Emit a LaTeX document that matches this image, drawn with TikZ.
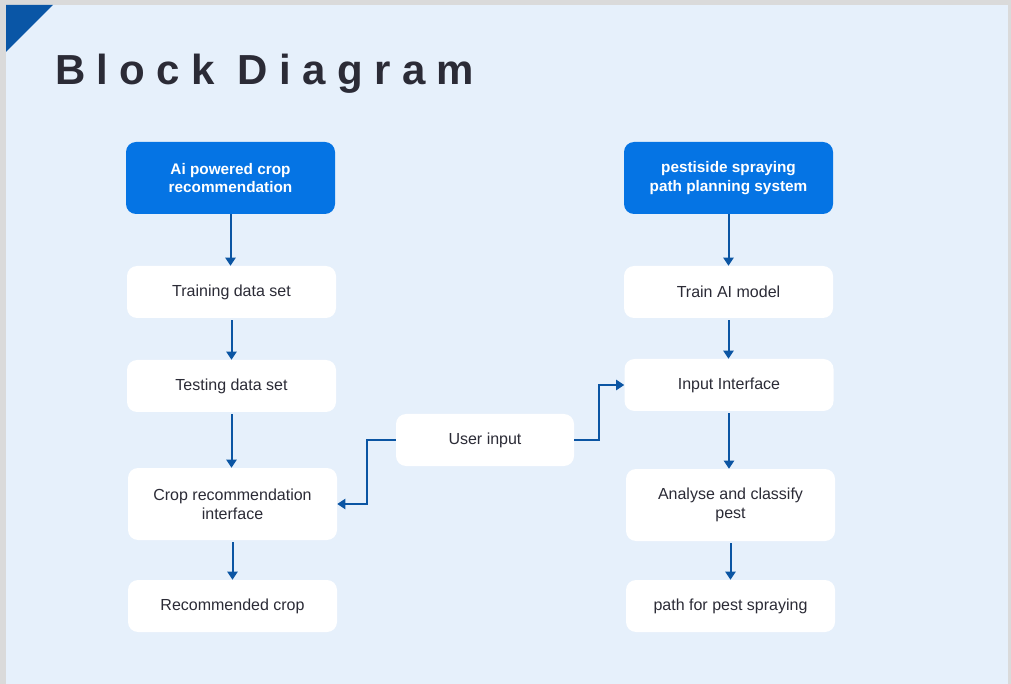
\documentclass[tikz,border=0pt]{standalone}
\usepackage{fontspec}
\setmainfont{Liberation Sans}
\usetikzlibrary{arrows.meta}

\definecolor{pagebg}{HTML}{E6F0FB}
\definecolor{edgegray}{HTML}{DADADA}
\definecolor{cornerblue}{HTML}{0A56A6}
\definecolor{headblue}{HTML}{0574E4}
\definecolor{arrowblue}{HTML}{0B55A3}
\definecolor{textdark}{HTML}{2B2B36}

\tikzset{
  headbox/.style={fill=headblue, text=white, rounded corners=7.5pt, align=center,
    minimum width=156.75pt, minimum height=54pt, inner sep=0pt,
    font=\bfseries\fontsize{11.5}{14}\selectfont},
  stepbox/.style={fill=white, text=textdark, rounded corners=7.5pt, align=center,
    minimum width=156.75pt, minimum height=39pt, inner sep=0pt,
    font=\fontsize{12}{14.5}\selectfont},
  flow/.style={draw=arrowblue, line width=1.5pt, -{Triangle[length=6pt,width=7.5pt]}}
}

\begin{document}
\begin{tikzpicture}[x=0.75pt,y=-0.75pt]
\useasboundingbox (0,0) rectangle (1011,684);
\fill[edgegray] (0,0) rectangle (1011,684);
\fill[pagebg] (6,5) rectangle (1008,684);
\fill[cornerblue] (6,5) -- (53,5) -- (6,52) -- cycle;

\node[anchor=base west, text=textdark, inner sep=0pt,
  font={\fontsize{31.5}{36}\selectfont\bfseries\addfontfeature{LetterSpace=27}}]
  (title) at (55,85) {Block Diagram};

% left column
\node[headbox] (crophead) at (230.5,178) {Ai powered crop\\recommendation};
\node[stepbox] (train) at (231.5,292) {Training data set};
\node[stepbox] (test) at (231.5,386) {Testing data set};
\node[stepbox, minimum height=54pt] (cropif) at (232.5,504) {Crop recommendation\\interface};
\node[stepbox] (reccrop) at (232.5,606) {Recommended crop};

% right column
\node[headbox] (pesthead) at (728.5,178) {pestiside spraying\\path planning system};
\node[stepbox] (trainai) at (728.5,292) {Train AI model};
\node[stepbox] (inputif) at (729,385) {Input Interface};
\node[stepbox, minimum height=54pt] (classify) at (730.5,505) {Analyse and classify\\pest};
\node[stepbox] (spraypath) at (730.5,606) {path for pest spraying};

% middle
\node[stepbox, minimum width=133.5pt] (user) at (485,440) {User input};

\draw[flow] (crophead.south) -- (crophead.south |- train.north);
\draw[flow] ([yshift=-1.5pt]train.south) -- (train.south |- test.north);
\draw[flow] ([yshift=-1.5pt]test.south) -- (test.south |- cropif.north);
\draw[flow] ([yshift=-1.5pt]cropif.south) -- (cropif.south |- reccrop.north);

\draw[flow] (pesthead.south) -- (pesthead.south |- trainai.north);
\draw[flow] ([yshift=-1.5pt]trainai.south) -- (trainai.south |- inputif.north);
\draw[flow] ([yshift=-1.5pt]inputif.south) -- (inputif.south |- classify.north);
\draw[flow] ([yshift=-1.5pt]classify.south) -- (classify.south |- spraypath.north);

\draw[flow] (user.west) -- ++(-29,0) |- (cropif.east);
\draw[flow] (user.east) -- ++(25,0) |- (inputif.west);

\end{tikzpicture}
\end{document}
